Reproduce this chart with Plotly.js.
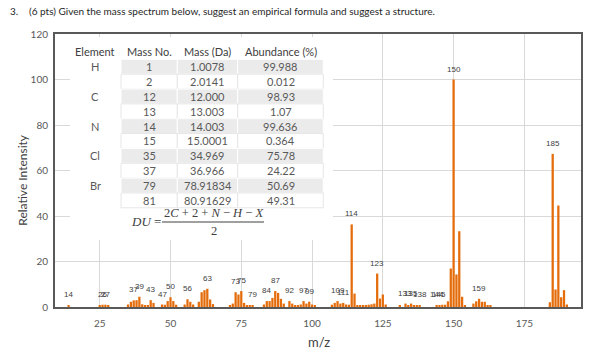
<!DOCTYPE html>
<html><head><meta charset="utf-8">
<script src="https://cdn.plot.ly/plotly-3.0.1.min.js"></script>
<style>html,body{margin:0;padding:0;background:#fff}#chart{width:592px;height:353px}</style>
</head><body><div id="chart"></div>
<script>
// ---- data ----
const masses = [14,25,26,27,28,35,36,37,38,39,40,41,42,43,44,47,48,49,50,51,52,55,56,57,58,
  60,61,62,63,64,65,71,72,73,74,75,76,77,78,79,83,84,85,86,87,88,89,90,92,93,94,95,
  96,97,98,99,100,101,107,108,109,110,111,112,113,114,115,116,117,118,119,120,121,122,123,124,125,126,
  131,133,134,135,136,137,138,144,145,146,147,148,149,150,151,152,153,154,
  157,158,159,160,161,162,163,184,185,186,187,188,189,190];
const intensities = [0.8,0.8,1.0,1.0,0.7,1.1,2.3,2.9,3.0,4.5,1.2,0.8,0.8,3.0,1.8,1.1,1.0,2.6,4.3,2.6,1.0,1.1,3.4,2.3,1.1,
  2.3,6.5,7.4,8.0,3.3,1.3,0.7,1.5,6.5,5.5,7.0,1.8,0.7,0.7,0.8,1.1,2.6,2.6,4.0,7.0,6.2,3.6,1.5,2.6,1.5,0.7,0.7,
  1.1,2.6,1.5,2.3,1.1,0.8,1.0,1.8,2.6,1.5,1.8,1.1,1.0,36.3,5.9,0.8,0.7,0.7,0.8,1.0,1.2,1.5,14.7,3.7,5.5,1.1,
  0.8,1.5,0.8,1.5,0.8,0.8,0.8,0.9,0.9,1.0,1.0,2.5,16.9,100,14.3,33.3,4.5,0.8,
  1.5,2.5,3.6,2.3,2.3,0.8,0.5,2.1,67.3,7.7,44.6,4.3,7.4,1.1];
const labelMasses = [14,26,27,37,39,43,47,50,56,63,73,75,79,84,87,92,97,99,109,111,114,123,133,135,138,144,145,150,159,185];
const xTicks = [25,50,75,100,125,150,175];

// isotope table
const tableHeader = ['Element','Mass No.','Mass (Da)','Abundance (%)'];
const elements = ['H','','C','','N','','Cl','','Br',''];
const massNumbers = ['1','2','12','13','14','15','35','37','79','81'];
const exactMasses = ['1.0078','2.0141','12.000','13.003','14.003','15.0001','34.969','36.966','78.91834','80.91629'];
const abundances = ['99.988','0.012','98.93','1.07','99.636','0.364','75.78','24.22','50.69','49.31'];

const titleNumber = '3.';
const titleText = '(6 pts) Given the mass spectrum below, suggest an empirical formula and suggest a structure.';
const xTitle = 'm/z';
const yTitle = 'Relative Intensity';

// ---- geometry helpers (pixel -> paper) ----
const W = 592, H = 353, M = {l:55, r:11, t:34, b:46};
const PW = W - M.l - M.r, PH = H - M.t - M.b;
const px = x => (x - M.l) / PW;
const py = y => 1 - (y - M.t) / PH;

const orange = '#E46C0A';
const dark = '#404040', grey = '#595959';

const bars = {
  type: 'bar', x: masses, y: intensities, width: 0.8,
  marker: {color: orange, line: {width: 0}}, hoverinfo: 'x+y'
};

const lookup = {};
masses.forEach((m, i) => lookup[m] = intensities[i]);

const annotations = labelMasses.map(m => ({
  x: m, y: lookup[m], xref: 'x', yref: 'y', text: String(m), showarrow: false,
  yanchor: 'bottom', yshift: 4, font: {family: 'Liberation Sans', size: 8, color: dark}
}));

const shapes = [
  {type:'rect', xref:'paper', yref:'paper', x0: px(70), x1: px(333), y0: py(240), y1: py(37),
   fillcolor:'white', line:{width:0}, layer:'above'}
];

// ---- isotope table built from the arrays ----
const colEdges = [75, 121, 177.3, 237.7, 323.3];
const colCenters = [95, 149.3, 207.7, 280.5];
const headerY = 51.7, rowTop0 = 59.3, rowH = 14.85;
const tableCols = [elements, massNumbers, exactMasses, abundances];
tableHeader.forEach((h, c) => annotations.push({
  xref:'paper', yref:'paper', x: px(colCenters[c]), y: py(headerY), xanchor:'center', yanchor:'middle',
  text: h, showarrow:false, font:{family:'Lato', size:11, color:dark}
}));
massNumbers.forEach((_, i) => {
  const y0 = rowTop0 + i * rowH, y1 = y0 + rowH;
  const shaded = i % 2 === 0;
  for (let c = 1; c < 4; c++) {
    shapes.push({type:'rect', xref:'paper', yref:'paper', x0: px(colEdges[c]), x1: px(colEdges[c+1]),
      y0: py(y1), y1: py(y0), fillcolor: shaded ? '#EBEBEB' : '#FFFFFF',
      line:{color: shaded ? '#FFFFFF' : '#E6E6E6', width:1}, layer:'above'});
  }
  tableCols.forEach((col, c) => {
    if (!col[i]) return;
    annotations.push({xref:'paper', yref:'paper', x: px(colCenters[c]), y: py((y0 + y1) / 2),
      xanchor:'center', yanchor:'middle', text: col[i], showarrow:false,
      font:{family:'Lato', size:11, color:grey}});
  });
});

annotations.push(
  {xref:'paper', yref:'paper', x: px(8), y: py(11), xanchor:'left', yanchor:'middle', text: titleNumber, showarrow:false,
   font:{family:'Lato', size:10, color:'#262626'}},
  {xref:'paper', yref:'paper', x: px(27), y: py(11), xanchor:'left', yanchor:'middle', text: titleText, showarrow:false,
   font:{family:'Lato', size:10, color:'#262626'}},
  {xref:'paper', yref:'paper', x: px(21.7), y: py(180), xanchor:'center', yanchor:'middle', text: yTitle, textangle: -90, showarrow:false,
   font:{family:'Lato', size:12, color:dark}},
  {xref:'paper', yref:'paper', x: px(319), y: py(342), xanchor:'center', yanchor:'middle', text: xTitle, showarrow:false,
   font:{family:'Lato', size:13, color:dark}},
  {xref:'paper', yref:'paper', x: px(146), y: py(221), xanchor:'center', yanchor:'middle', text: '<i>DU</i> =', showarrow:false,
   font:{family:'Liberation Serif', size:13, color:dark}},
  {xref:'paper', yref:'paper', x: px(213.5), y: py(212.5), xanchor:'center', yanchor:'middle',
   text: '2<i>C</i> + 2 + <i>N</i> − <i>H</i> − <i>X</i>', showarrow:false,
   font:{family:'Liberation Serif', size:12.5, color:dark}},
  {xref:'paper', yref:'paper', x: px(213.5), y: py(231), xanchor:'center', yanchor:'middle', text: '2', showarrow:false,
   font:{family:'Liberation Serif', size:12.5, color:dark}}
);
shapes.push({type:'line', xref:'paper', yref:'paper', x0: px(162), x1: px(264), y0: py(222), y1: py(222),
   line:{color:dark, width:1}, layer:'above'});

const axisCommon = {
  showgrid: true, gridcolor: '#D9D9D9', gridwidth: 1, zeroline: false,
  showline: true, mirror: true, linecolor: grey, linewidth: 2,
  ticks: 'outside', tickcolor: 'rgba(0,0,0,0)',
  tickfont: {family: 'Lato', size: 10, color: grey}
};

const layout = {
  width: W, height: H, margin: {l: M.l, r: M.r, t: M.t, b: M.b, pad: 0},
  paper_bgcolor: 'white', plot_bgcolor: 'white', showlegend: false,
  xaxis: Object.assign({}, axisCommon, {range: [9.2, 195], tickvals: xTicks, ticklen: 6}),
  yaxis: Object.assign({}, axisCommon, {range: [0, 120], dtick: 20, ticklen: 3}),
  annotations: annotations, shapes: shapes
};

Plotly.newPlot('chart', [bars], layout, {displayModeBar: false});
</script></body></html>
